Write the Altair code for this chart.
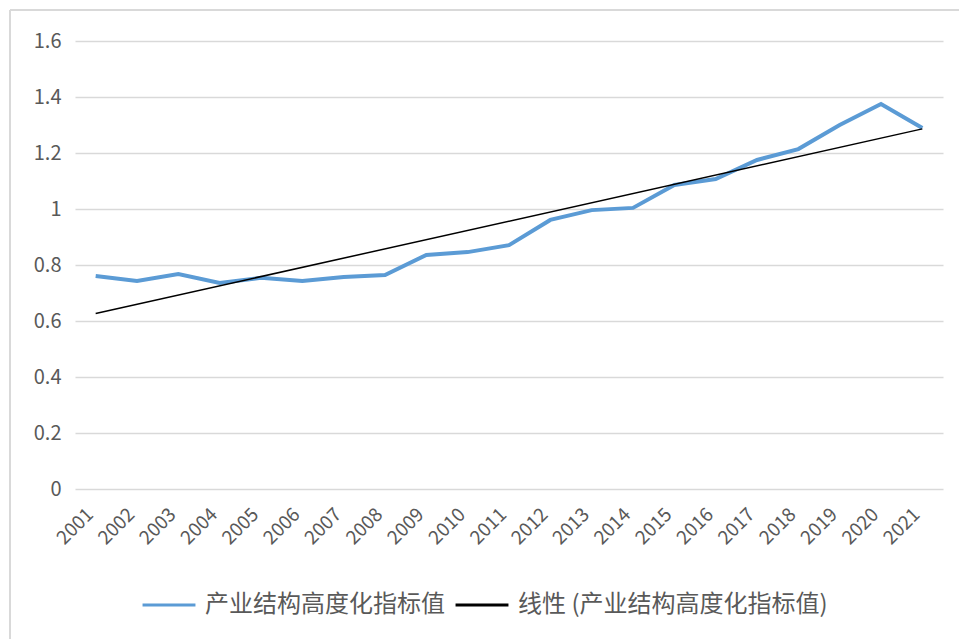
import altair as alt
import pandas as pd

years = list(range(2001, 2022))
values = [0.761, 0.743, 0.768, 0.736, 0.754, 0.743, 0.757, 0.764, 0.836, 0.846,
          0.871, 0.961, 0.996, 1.004, 1.086, 1.107, 1.175, 1.214, 1.300, 1.375, 1.289]
series_names = ["产业结构高度化指标值", "线性 (产业结构高度化指标值)"]
series_colors = ["#5B9BD5", "#000000"]
y_ticks = [0, 0.2, 0.4, 0.6, 0.8, 1.0, 1.2, 1.4, 1.6]

df = pd.DataFrame({"year": years, "value": values})

FONT = "Noto Sans CJK SC"
GRAY = "#595959"

color_scale = alt.Scale(domain=series_names, range=series_colors)

x_enc = alt.X("year:Q",
              scale=alt.Scale(domain=[2000.5, 2021.5], nice=False, zero=False),
              axis=alt.Axis(values=years, format="d", labelAngle=-45, grid=False,
                            domain=False, ticks=False, labelPadding=22,
                            labelOffset=-6,
                            labelAlign="right", labelBaseline="middle",
                            labelOverlap=False, labelBound=False,
                            labelFontSize=19, labelColor=GRAY, labelFont=FONT,
                            title=None))
y_enc = alt.Y("value:Q",
              scale=alt.Scale(domain=[0, 1.6], nice=False),
              axis=alt.Axis(values=y_ticks, format="~g", grid=True, gridColor="#D9D9D9",
                            gridWidth=1.3, domain=False, ticks=False, labelPadding=14,
                            labelFontSize=20, labelColor=GRAY, labelFont=FONT,
                            title=None))

legend = alt.Legend(title=None, orient="none", legendX=66, legendY=536,
                    direction="horizontal", symbolType="stroke", symbolSize=2800,
                    symbolStrokeWidth=3, labelFontSize=24, labelFont=FONT,
                    labelColor=GRAY, columnPadding=4, labelOffset=8,
                    labelLimit=600)

color_enc = alt.Color("series:N", scale=color_scale, legend=legend)

line = alt.Chart(df).transform_calculate(
    series=f"'{series_names[0]}'"
).mark_line(strokeWidth=4).encode(x=x_enc, y=y_enc, color=color_enc)

trend = alt.Chart(df).transform_regression("year", "value").transform_calculate(
    series=f"'{series_names[1]}'"
).mark_line(strokeWidth=1.5).encode(
    x=alt.X("year:Q"), y=alt.Y("value:Q"), color=color_enc)

frame_top = alt.Chart(df).mark_rule(color="#D9D9D9", strokeWidth=1.5).encode(
    x=alt.value(-65), x2=alt.value(900), y=alt.value(-31))
frame_left = alt.Chart(df).mark_rule(color="#D9D9D9", strokeWidth=1.5).encode(
    x=alt.value(-65), y=alt.value(-31), y2=alt.value(620))

chart = alt.layer(frame_top, frame_left, line, trend).properties(
    width=868, height=448,
    autosize=alt.AutoSizeParams(type="none"),
    padding={"left": 75, "top": 41, "right": 16, "bottom": 150},
    background="white",
).configure_view(stroke=None)

chart.save("out.html", embed_options={"renderer": "svg", "actions": False})
